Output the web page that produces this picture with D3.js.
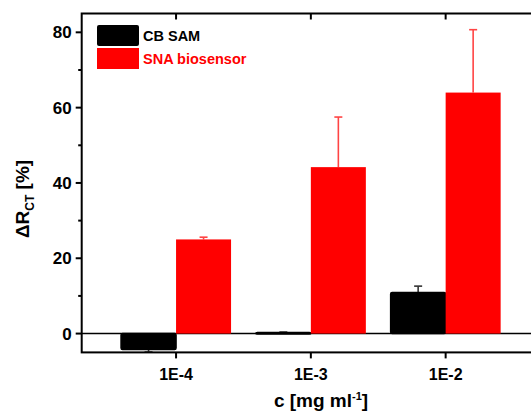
<!DOCTYPE html>
<html>
<head>
<meta charset="utf-8">
<script src="https://cdn.jsdelivr.net/npm/d3@7"></script>
<style>
  body{margin:0;background:#fff;}
  svg{display:block;font-family:"Liberation Sans",Arial,sans-serif;font-weight:bold;}
</style>
</head>
<body>
<div id="chart"></div>
<script>
const categories=["1E-4","1E-3","1E-2"];
const cbValues=[-4.2,0.3,10.9];
const cbErrors=[0.7,0.1,1.7];
const snaValues=[25.0,44.2,64.0];
const snaErrors=[0.6,13.3,16.7];
const yTicks=[0,20,40,60,80];
const yMinorTicks=[10,30,50,70];
const seriesNames=["CB SAM","SNA biosensor"];

const width=531, height=411;
const plotLeft=81.7, plotRight=540, plotTop=13.5, plotBottom=352.4;
const barW=55;

const svg=d3.select("#chart").append("svg")
  .attr("width",width).attr("height",height);

const x=d3.scaleLinear().domain([0.3,3.7]).range([plotLeft,plotRight]);
const y=d3.scaleLinear().domain([-5,85]).range([plotBottom,plotTop]);

// zero line
svg.append("line")
  .attr("x1",plotLeft).attr("x2",plotRight)
  .attr("y1",y(0)).attr("y2",y(0))
  .attr("stroke","#000").attr("stroke-width",1.5);

const series=[
  {vals:cbValues,errs:cbErrors,fill:"#000",err:"#333",off:-barW},
  {vals:snaValues,errs:snaErrors,fill:"#ff0000",err:"#ff4444",off:0}
];

series.forEach(s=>{
  // error bars first (behind)
  svg.append("g").selectAll("g")
    .data(categories)
    .enter()
    .append("g")
    .each(function(d,i){
      const v=s.vals[i], e=s.errs[i];
      const cx=x(i+1)+s.off+barW/2;
      const end=v>=0 ? v+e : v-e;
      const g=d3.select(this);
      g.append("line").attr("x1",cx).attr("x2",cx)
        .attr("y1",y(v)).attr("y2",y(end))
        .attr("stroke",s.err).attr("stroke-width",1.6);
      g.append("line").attr("x1",cx-4).attr("x2",cx+4)
        .attr("y1",y(end)).attr("y2",y(end))
        .attr("stroke",s.err).attr("stroke-width",1.6);
    });

  svg.append("g").selectAll("rect")
    .data(categories)
    .enter()
    .append("rect")
    .attr("x",(d,i)=>x(i+1)+s.off)
    .attr("y",(d,i)=>y(Math.max(0,s.vals[i])))
    .attr("width",barW)
    .attr("height",(d,i)=>Math.max(1.5,Math.abs(y(s.vals[i])-y(0))))
    .attr("fill",s.fill)
    .attr("stroke",s.fill==="#000"?"#000":"none")
    .attr("stroke-width",1.5)
    .attr("rx",s.fill==="#000"?1.5:0);
});

// frame
svg.append("rect")
  .attr("x",plotLeft).attr("y",plotTop)
  .attr("width",plotRight-plotLeft).attr("height",plotBottom-plotTop)
  .attr("fill","none").attr("stroke","#000").attr("stroke-width",2);

// left axis
const yAxis=svg.append("g");
yAxis.selectAll(".maj").data(yTicks).enter().append("line")
  .attr("x1",plotLeft-6).attr("x2",plotLeft)
  .attr("y1",d=>y(d)).attr("y2",d=>y(d))
  .attr("stroke","#000").attr("stroke-width",2);
yAxis.selectAll(".min").data(yMinorTicks).enter().append("line")
  .attr("x1",plotLeft-3.5).attr("x2",plotLeft)
  .attr("y1",d=>y(d)).attr("y2",d=>y(d))
  .attr("stroke","#000").attr("stroke-width",2);
yAxis.selectAll("text").data(yTicks).enter().append("text")
  .attr("x",plotLeft-10).attr("y",d=>y(d))
  .attr("dy","0.36em")
  .attr("text-anchor","end")
  .style("font-size","17px")
  .text(d=>d);

// bottom axis
const xAxis=svg.append("g");
xAxis.selectAll("line").data(categories).enter().append("line")
  .attr("x1",(d,i)=>x(i+1)).attr("x2",(d,i)=>x(i+1))
  .attr("y1",plotBottom).attr("y2",plotBottom+6)
  .attr("stroke","#000").attr("stroke-width",2);
xAxis.selectAll("text").data(categories).enter().append("text")
  .attr("x",(d,i)=>x(i+1)).attr("y",plotBottom+28)
  .attr("text-anchor","middle")
  .style("font-size","16px")
  .text(d=>d);

// top ticks (inward)
svg.append("g").selectAll("line").data(categories).enter().append("line")
  .attr("x1",(d,i)=>x(i+1)).attr("x2",(d,i)=>x(i+1))
  .attr("y1",plotTop).attr("y2",plotTop+6)
  .attr("stroke","#000").attr("stroke-width",2);

// axis titles
const xt=svg.append("text")
  .attr("x",321).attr("y",407)
  .attr("text-anchor","middle")
  .style("font-size","19px");
xt.append("tspan").text("c [mg ml");
xt.append("tspan").attr("dy","-7").style("font-size","11px").text("-1");
xt.append("tspan").attr("dy","7").text("]");

const yt=svg.append("text")
  .attr("transform","translate(29,199) rotate(-90)")
  .attr("text-anchor","middle")
  .style("font-size","19px");
yt.append("tspan").text("ΔR");
yt.append("tspan").attr("dy","5").style("font-size","12px").text("CT");
yt.append("tspan").attr("dy","-5").text(" [%]");

// legend
const legend=svg.append("g");
const legColors=["#000","#ff0000"];
seriesNames.forEach((n,i)=>{
  legend.append("rect")
    .attr("x",97).attr("y",25+i*23)
    .attr("width",42).attr("height",21)
    .attr("rx",i===0?2:0)
    .attr("fill",legColors[i]);
  legend.append("text")
    .attr("x",143).attr("y",41+i*23)
    .style("font-size","14.5px")
    .attr("fill",legColors[i])
    .text(n);
});
</script>
</body>
</html>
